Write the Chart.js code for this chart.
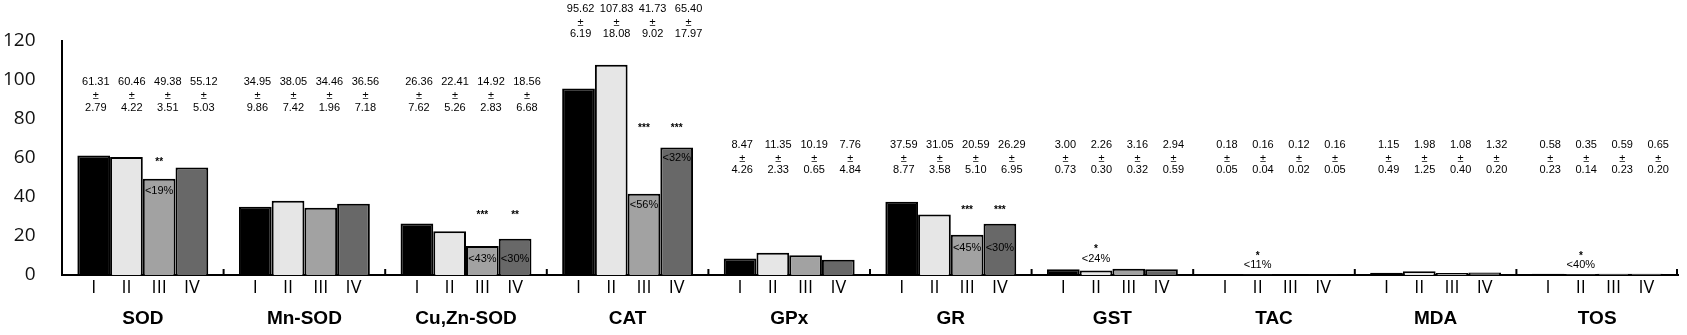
<!DOCTYPE html>
<html>
<head>
<meta charset="utf-8">
<script src="https://cdn.jsdelivr.net/npm/chart.js@4.4.0/dist/chart.umd.min.js"></script>
<style>
  html, body { margin: 0; padding: 0; background: #fff; }
  #wrap { width: 1687px; height: 335px; }
</style>
</head>
<body>
<div id="wrap"><canvas id="enzymeChart" width="1687" height="335"></canvas></div>
<script>
// groups on the x axis
const groups = ['SOD', 'Mn-SOD', 'Cu,Zn-SOD', 'CAT', 'GPx', 'GR', 'GST', 'TAC', 'MDA', 'TOS'];
const seriesNames = ['I', 'II', 'III', 'IV'];
const yTicks = [0, 20, 40, 60, 80, 100, 120];

// mean values
const meanI   = [61.31, 34.95, 26.36, 95.62, 8.47, 37.59, 3.00, 0.18, 1.15, 0.58];
const meanII  = [60.46, 38.05, 22.41, 107.83, 11.35, 31.05, 2.26, 0.16, 1.98, 0.35];
const meanIII = [49.38, 34.46, 14.92, 41.73, 10.19, 20.59, 3.16, 0.12, 1.08, 0.59];
const meanIV  = [55.12, 36.56, 18.56, 65.40, 7.76, 26.29, 2.94, 0.16, 1.32, 0.65];

// standard deviations
const sdI   = [2.79, 9.86, 7.62, 6.19, 4.26, 8.77, 0.73, 0.05, 0.49, 0.23];
const sdII  = [4.22, 7.42, 5.26, 18.08, 2.33, 3.58, 0.30, 0.04, 1.25, 0.14];
const sdIII = [3.51, 1.96, 2.83, 9.02, 0.65, 5.10, 0.32, 0.02, 0.40, 0.23];
const sdIV  = [5.03, 7.18, 6.68, 17.97, 4.84, 6.95, 0.59, 0.05, 0.20, 0.20];

// significance marks
const starsI   = ['', '', '', '', '', '', '', '', '', ''];
const starsII  = ['', '', '', '', '', '', '*', '*', '', '*'];
const starsIII = ['**', '', '***', '***', '', '***', '', '', '', ''];
const starsIV  = ['', '', '**', '***', '', '***', '', '', '', ''];
const pctI   = ['', '', '', '', '', '', '', '', '', ''];
const pctII  = ['', '', '', '', '', '', '<24%', '<11%', '', '<40%'];
const pctIII = ['<19%', '', '<43%', '<56%', '', '<45%', '', '', '', ''];
const pctIV  = ['', '', '<30%', '<32%', '', '<30%', '', '', '', ''];

const means = [meanI, meanII, meanIII, meanIV];
const sds = [sdI, sdII, sdIII, sdIV];
const stars = [starsI, starsII, starsIII, starsIV];
const pcts = [pctI, pctII, pctIII, pctIV];
const fills = ['#000000', '#e6e6e6', '#a2a2a2', '#686868'];

// where the text sits, in axis units
const meanTextLevel = [98.8, 98.8, 98.8, 136.6, 66.7, 66.7, 66.7, 66.7, 66.7, 66.7];
const markLevel = {
  '0-2': [59.5, 43],
  '2-2': [32, 8.3], '2-3': [32, 8.3],
  '3-2': [76.6, 35.7], '3-3': [76.6, 60],
  '5-2': [34.7, 14], '5-3': [34.7, 14],
  '6-1': [15, 8.3],
  '7-1': [11.4, 5.2],
  '9-1': [11.4, 5.2]
};

const textPlugin = {
  id: 'textPlugin',
  afterDraw(chart) {
    const ctx = chart.ctx;
    const x = chart.scales.x;
    const y = chart.scales.y;
    const area = chart.chartArea;
    ctx.save();
    ctx.fillStyle = '#000';
    ctx.textAlign = 'center';
    ctx.textBaseline = 'middle';

    // small ticks between groups
    ctx.strokeStyle = '#000';
    ctx.lineWidth = 2;
    for (let i = 0; i < groups.length; i++) {
      const xb = i < groups.length - 1
        ? (x.getPixelForValue(i) + x.getPixelForValue(i + 1)) / 2
        : x.right - 1;
      ctx.beginPath();
      ctx.moveTo(xb, area.bottom);
      ctx.lineTo(xb, area.bottom - 6);
      ctx.stroke();
    }

    for (let s = 0; s < 4; s++) {
      const meta = chart.getDatasetMeta(s);
      meta.data.forEach((bar, g) => {
        // roman numeral under each bar
        ctx.font = '18px "Open Sans"';
        ctx.fillText(seriesNames[s], bar.x, area.bottom + 12.5);

        // mean ± sd, spread a little wider than the bars
        const gc = x.getPixelForValue(g);
        const tx = gc + (bar.x - gc) * 1.1 + 7;
        ctx.font = '11px "Liberation Sans"';
        const ty = y.getPixelForValue(meanTextLevel[g]);
        ctx.fillText(means[s][g].toFixed(2), tx, ty);
        ctx.fillText('±', tx, ty + 14);
        ctx.fillText(sds[s][g].toFixed(2), tx, ty + 25.5);

        // significance
        const lv = markLevel[g + '-' + s];
        if (lv) {
          ctx.font = 'bold 10px "Liberation Sans"';
          ctx.fillText(stars[s][g], bar.x, y.getPixelForValue(lv[0]) + 3);
          ctx.font = '11px "Liberation Sans"';
          ctx.fillText(pcts[s][g], bar.x, y.getPixelForValue(lv[1]));
        }
      });
    }
    ctx.restore();
  }
};

const ctx = document.getElementById('enzymeChart').getContext('2d');
const enzymeChart = new Chart(ctx, {
  type: 'bar',
  data: {
    labels: groups,
    datasets: seriesNames.map((name, i) => ({
      label: name,
      data: means[i],
      backgroundColor: fills[i],
      borderColor: '#000000',
      borderWidth: 2,
      barPercentage: 1.0,
      categoryPercentage: 0.81
    }))
  },
  options: {
    responsive: false,
    animation: false,
    devicePixelRatio: 1,
    layout: { padding: { top: 41, right: 9, bottom: 6, left: 3 } },
    plugins: {
      legend: { display: false },
      title: { display: false },
      tooltip: { enabled: false }
    },
    scales: {
      x: {
        grid: { display: false, drawTicks: false },
        border: { display: true, color: '#000', width: 2 },
        afterFit: axis => { axis.height = 54; },
        ticks: {
          color: '#000',
          padding: 32,
          font: { family: '"Liberation Sans", Arial', size: 19, weight: 'bold' }
        }
      },
      y: {
        min: 0,
        max: 120,
        afterBuildTicks: axis => { axis.ticks = yTicks.map(v => ({ value: v })); },
        afterFit: axis => { axis.width = 59; },
        grid: { display: false, drawTicks: false },
        border: { display: true, color: '#000', width: 2 },
        ticks: {
          color: '#111',
          padding: 26.5,
          font: { family: '"Open Sans"', size: 19 }
        }
      }
    }
  },
  plugins: [textPlugin]
});
</script>
</body>
</html>
